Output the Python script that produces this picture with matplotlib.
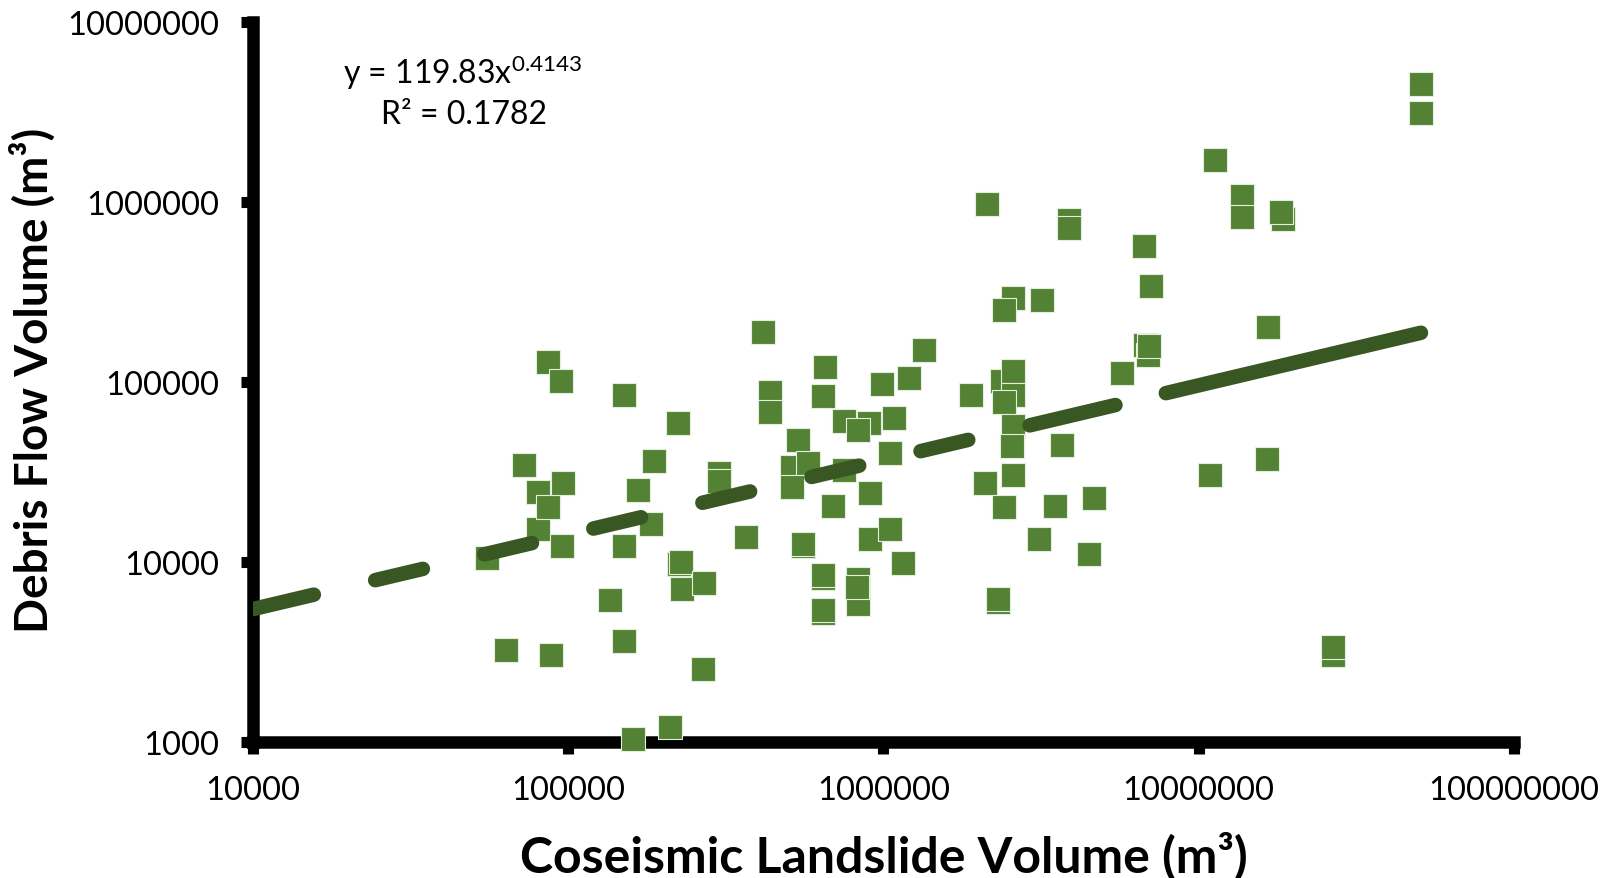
import numpy as np
import matplotlib
matplotlib.use("Agg")
import matplotlib.pyplot as plt
from matplotlib.ticker import NullLocator

# Volumes (m3)
landslide_vol = [55100, 63600, 72300, 80300, 80300, 86300, 86300, 94700, 96200, 95400,
                 87900, 150400, 150400, 150400, 135900, 160400, 166500, 183600, 186400, 210200,
                 223300, 225000, 228400, 230100, 269400, 267400, 301600, 301600, 366700, 413700,
                 437700, 437700, 534100, 514400, 577900, 514400, 556700, 556700, 654300, 644500,
                 644500, 644500, 644500, 644500, 689600, 749300, 752000, 832400, 832400, 826200,
                 897400, 832400, 904100, 904100, 989500, 1051000, 1051000, 1083000, 1150000, 1208000,
                 1347000, 1889000, 2106000, 2130000, 2315000, 2315000, 2572000, 2404000, 2404000, 2368000,
                 2572000, 2572000, 2404000, 2572000, 2553000, 2572000, 3103000, 3174000, 3487000, 3690000,
                 3889000, 3889000, 4486000, 4658000, 5706000, 6682000, 6733000, 6887000, 6939000, 7077000,
                 10890000, 11230000, 13760000, 13760000, 16600000, 16480000, 18440000, 18300000, 26670000, 26670000,
                 50680000, 50680000]
debris_vol = [10400, 3220, 34400, 24400, 15200, 20000, 128000, 101000, 27200, 12200,
              3010, 84200, 12200, 3630, 6140, 1030, 25100, 16200, 36300, 1200,
              59000, 9730, 9990, 7050, 7570, 2540, 31000, 28000, 13700, 187800,
              87600, 67300, 47200, 33500, 35300, 26100, 12200, 12500, 120000, 83000,
              8090, 8410, 5170, 5380, 20300, 60600, 32200, 7980, 5820, 7190,
              59000, 53800, 24100, 13300, 97200, 40300, 15200, 63000, 9860, 104000,
              150100, 84200, 27300, 972000, 5980, 6220, 291800, 250800, 20000, 101000,
              114000, 84200, 76700, 56700, 43600, 30200, 13300, 284300, 20300, 44200,
              788000, 709400, 11000, 22600, 111700, 567300, 160400, 140600, 158300, 339500,
              30400, 1702000, 1073000, 819700, 200600, 37200, 798500, 875400, 3035, 3350,
              4498000, 3097000]

# Courbe de tendance (loi puissance)
fit_a = 119.83
fit_b = 0.4143
fit_r2 = 0.1782

x_ticks = [1e4, 1e5, 1e6, 1e7, 1e8]
x_ticklabels = ["10000", "100000", "1000000", "10000000", "100000000"]
y_ticks = [1e3, 1e4, 1e5, 1e6, 1e7]
y_ticklabels = ["1000", "10000", "100000", "1000000", "10000000"]

plt.rcParams['font.family'] = ['Lato', 'DejaVu Sans']
plt.rcParams['mathtext.fontset'] = 'custom'
plt.rcParams['mathtext.rm'] = 'Lato'
plt.rcParams['mathtext.default'] = 'rm'
plt.rcParams['lines.scale_dashes'] = False

fig = plt.figure(figsize=(16.13, 8.79), dpi=100)
ax = fig.add_axes([0.15685, 0.15529, 0.78177, 0.81911])

ax.scatter(landslide_vol, debris_vol, marker='s', s=290, c='#548235',
           edgecolors='#E2EFDA', linewidths=0.8, zorder=3, clip_on=False)

xs = np.logspace(4, np.log10(max(landslide_vol)), 300)
ys = fit_a * xs ** fit_b
trend, = ax.plot(xs, ys, color='#385723', lw=10.5, zorder=4,
                 dash_capstyle='round', solid_capstyle='round')
# tirets irréguliers comme dans Excel
dash_seq = [45, 45.4] + [35.3, 45.4] * 6 + [63.5, 37.3, 300, 10]
trend.set_dashes(dash_seq)

ax.set_xscale('log')
ax.set_yscale('log')
ax.set_xlim(1e4, 1e8)
ax.set_ylim(1e3, 1e7)
ax.set_xticks(x_ticks)
ax.set_xticklabels(x_ticklabels)
ax.set_yticks(y_ticks)
ax.set_yticklabels(y_ticklabels)
ax.xaxis.set_minor_locator(NullLocator())
ax.yaxis.set_minor_locator(NullLocator())

for s in ['top', 'right']:
    ax.spines[s].set_visible(False)
for s in ['left', 'bottom']:
    ax.spines[s].set_linewidth(9)
    ax.spines[s].set_color('black')
    ax.spines[s].set_capstyle('projecting')

ax.tick_params(axis='both', which='major', direction='out', length=8.3, width=8,
               color='black', labelsize=23.5, pad=16)

ax.text(0.1665, 0.931, 'y = %.2fx$^{%.4f}$' % (fit_a, fit_b), transform=ax.transAxes,
        ha='center', va='center', fontsize=23)
ax.text(0.1673, 0.8715, 'R² = %.4f' % fit_r2, transform=ax.transAxes,
        ha='center', va='center', fontsize=23)

fig.text(884 / 1613, 1 - 856 / 879, 'Coseismic Landslide Volume (m³)', ha='center', va='center',
         fontsize=36, fontweight='bold')
fig.text(33 / 1613, 1 - 380 / 879, 'Debris Flow Volume (m³)', ha='center', va='center',
         rotation=90, fontsize=33, fontweight='bold')

fig.savefig('out.png', dpi=100, facecolor='white')
